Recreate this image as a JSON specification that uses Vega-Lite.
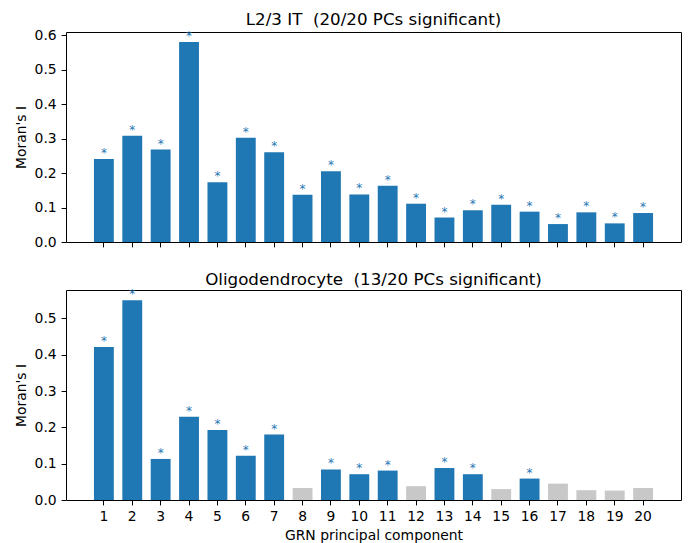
{
  "$schema": "https://vega.github.io/schema/vega-lite/v6.json",
  "padding": {"left": 14, "top": 11, "right": 5, "bottom": 0},
  "spacing": 21,
  "config": {
    "font": "DejaVu Sans",
    "view": {"stroke": "black", "strokeWidth": 1},
    "axis": {"grid": false, "domain": false, "tickColor": "black", "tickSize": 4.9, "tickWidth": 1, "labelFontSize": 13.9, "labelColor": "black", "titleFontSize": 13.9, "titleFontWeight": "normal", "titleColor": "black", "labelPadding": 4.9, "titlePadding": 5.6, "labelFont": "DejaVu Sans", "titleFont": "DejaVu Sans"},
    "title": {"fontSize": 16.7, "fontWeight": "normal", "font": "DejaVu Sans", "color": "black", "offset": -1, "baseline": "alphabetic"}
  },
  "datasets": {
    "l23": [
      {"pc": 1, "moran": 0.241, "sig": "yes"}, {"pc": 2, "moran": 0.308, "sig": "yes"},
      {"pc": 3, "moran": 0.268, "sig": "yes"}, {"pc": 4, "moran": 0.580, "sig": "yes"},
      {"pc": 5, "moran": 0.173, "sig": "yes"}, {"pc": 6, "moran": 0.302, "sig": "yes"},
      {"pc": 7, "moran": 0.260, "sig": "yes"}, {"pc": 8, "moran": 0.137, "sig": "yes"},
      {"pc": 9, "moran": 0.205, "sig": "yes"}, {"pc": 10, "moran": 0.138, "sig": "yes"},
      {"pc": 11, "moran": 0.163, "sig": "yes"}, {"pc": 12, "moran": 0.111, "sig": "yes"},
      {"pc": 13, "moran": 0.071, "sig": "yes"}, {"pc": 14, "moran": 0.092, "sig": "yes"},
      {"pc": 15, "moran": 0.108, "sig": "yes"}, {"pc": 16, "moran": 0.088, "sig": "yes"},
      {"pc": 17, "moran": 0.052, "sig": "yes"}, {"pc": 18, "moran": 0.086, "sig": "yes"},
      {"pc": 19, "moran": 0.054, "sig": "yes"}, {"pc": 20, "moran": 0.084, "sig": "yes"}
    ],
    "oligo": [
      {"pc": 1, "moran": 0.421, "sig": "yes"}, {"pc": 2, "moran": 0.550, "sig": "yes"},
      {"pc": 3, "moran": 0.113, "sig": "yes"}, {"pc": 4, "moran": 0.229, "sig": "yes"},
      {"pc": 5, "moran": 0.193, "sig": "yes"}, {"pc": 6, "moran": 0.122, "sig": "yes"},
      {"pc": 7, "moran": 0.180, "sig": "yes"}, {"pc": 8, "moran": 0.033, "sig": "no"},
      {"pc": 9, "moran": 0.084, "sig": "yes"}, {"pc": 10, "moran": 0.071, "sig": "yes"},
      {"pc": 11, "moran": 0.081, "sig": "yes"}, {"pc": 12, "moran": 0.038, "sig": "no"},
      {"pc": 13, "moran": 0.088, "sig": "yes"}, {"pc": 14, "moran": 0.071, "sig": "yes"},
      {"pc": 15, "moran": 0.030, "sig": "no"}, {"pc": 16, "moran": 0.059, "sig": "yes"},
      {"pc": 17, "moran": 0.045, "sig": "no"}, {"pc": 18, "moran": 0.027, "sig": "no"},
      {"pc": 19, "moran": 0.026, "sig": "no"}, {"pc": 20, "moran": 0.033, "sig": "no"}
    ]
  },
  "vconcat": [
    {
      "title": "L2/3 IT \u00a0(20/20 PCs significant)",
      "width": 615,
      "height": 210,
      "data": {"name": "l23"},
      "encoding": {
        "x": {"field": "pc", "type": "ordinal", "scale": {"paddingInner": 0.3, "paddingOuter": 0.985}, "axis": {"labels": false, "title": null}},
        "y": {"field": "moran", "type": "quantitative", "scale": {"domain": [0, 0.609], "nice": false}, "axis": {"title": "Moran's I", "values": [0, 0.1, 0.2, 0.3, 0.4, 0.5, 0.6], "format": ".1f"}}
      },
      "layer": [
        {"mark": {"type": "bar"}, "encoding": {"color": {"field": "sig", "type": "nominal", "scale": {"domain": ["yes", "no"], "range": ["#1f77b4", "#c8c8c8"]}, "legend": null}}},
        {"transform": [{"filter": "datum.sig === 'yes'"}], "mark": {"type": "text", "text": "*", "color": "#1f77b4", "fontSize": 12, "baseline": "alphabetic", "dy": -2}}
      ]
    },
    {
      "title": "Oligodendrocyte \u00a0(13/20 PCs significant)",
      "width": 615,
      "height": 210,
      "data": {"name": "oligo"},
      "encoding": {
        "x": {"field": "pc", "type": "ordinal", "scale": {"paddingInner": 0.3, "paddingOuter": 0.985}, "axis": {"labelAngle": 0, "title": "GRN principal component", "titlePadding": 5}},
        "y": {"field": "moran", "type": "quantitative", "scale": {"domain": [0, 0.578], "nice": false}, "axis": {"title": "Moran's I", "values": [0, 0.1, 0.2, 0.3, 0.4, 0.5], "format": ".1f"}}
      },
      "layer": [
        {"mark": {"type": "bar"}, "encoding": {"color": {"field": "sig", "type": "nominal", "scale": {"domain": ["yes", "no"], "range": ["#1f77b4", "#c8c8c8"]}, "legend": null}}},
        {"transform": [{"filter": "datum.sig === 'yes'"}], "mark": {"type": "text", "text": "*", "color": "#1f77b4", "fontSize": 12, "baseline": "alphabetic", "dy": -2}}
      ]
    }
  ]
}
